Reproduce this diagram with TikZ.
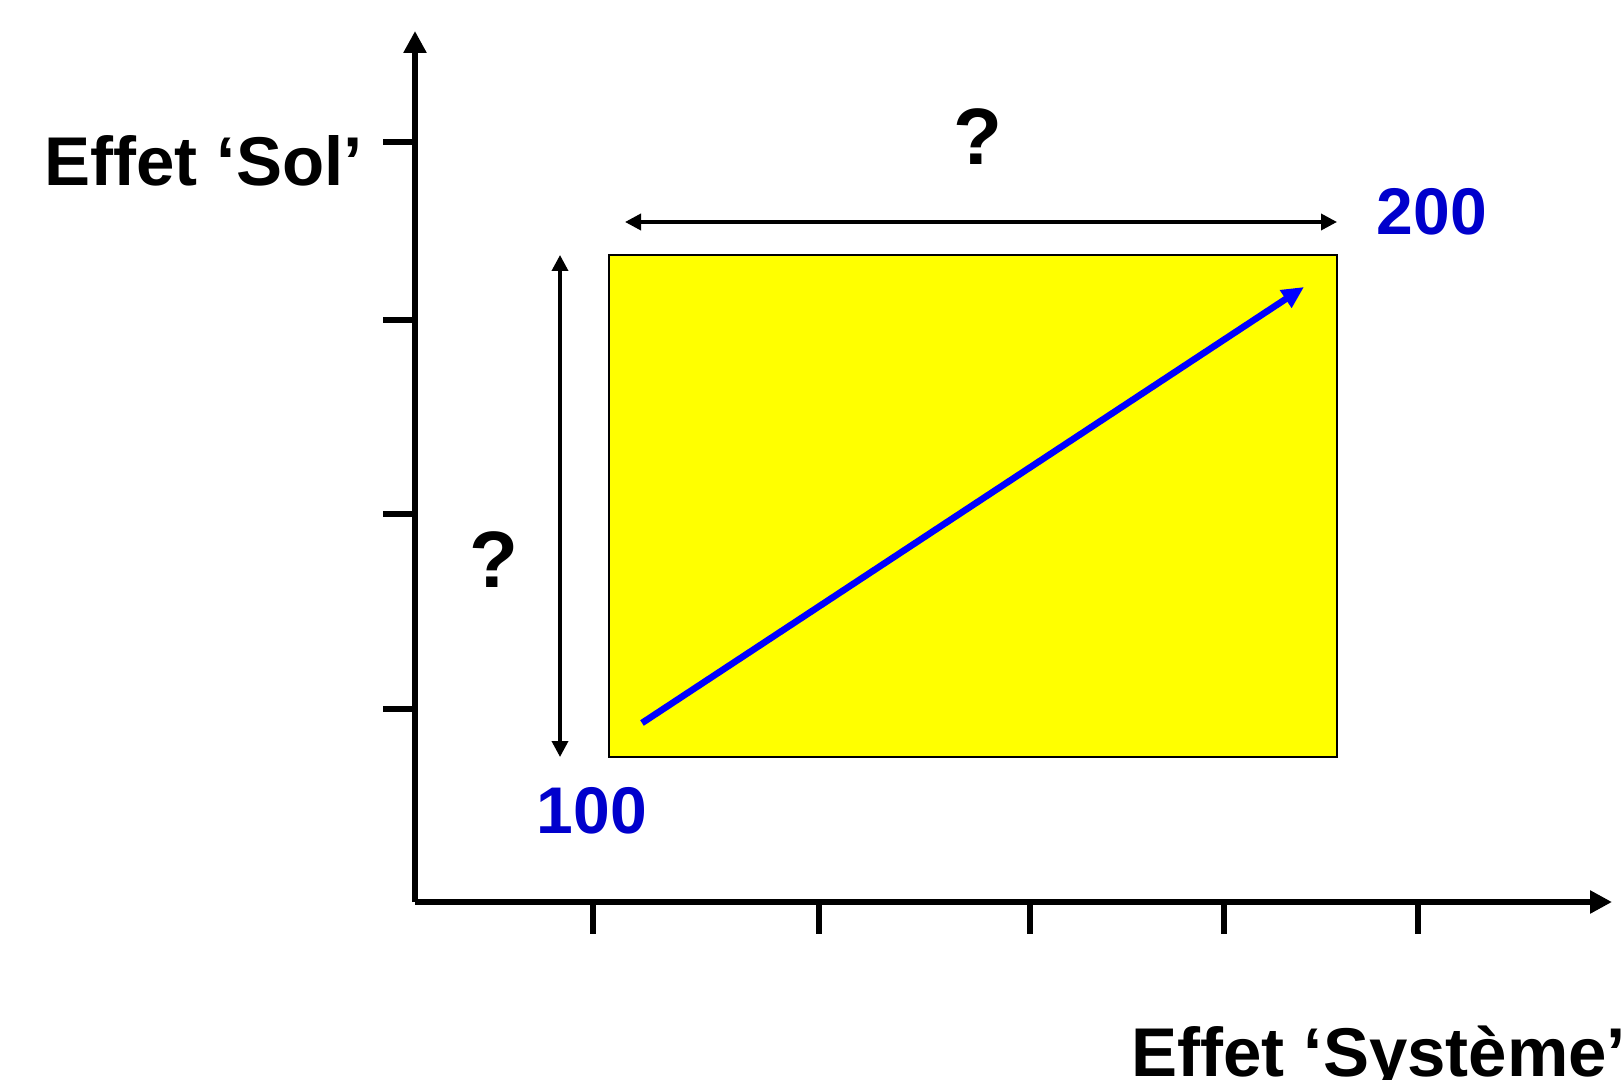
\documentclass[tikz,border=0pt]{standalone}
\usepackage{fontspec}
\setmainfont{Liberation Sans}
\usetikzlibrary{arrows.meta, positioning}
\definecolor{numblue}{RGB}{0,0,204}
\definecolor{zoneyellow}{RGB}{255,255,0}
\tikzset{
	axis_line/.style={draw=black, line width=3pt, -{Triangle[length=11pt, width=11pt]}},
	tick_line/.style={draw=black, line width=3pt},
	span_arrow/.style={draw=black, line width=1.8pt, {Triangle[length=8pt, width=8pt]}-{Triangle[length=8pt, width=8pt]}},
	trend_arrow/.style={draw=blue, line width=3.3pt, -{Triangle[length=11pt, width=10pt]}},
	zone_box/.style={rectangle, draw=black, line width=1pt, fill=zoneyellow, minimum width=364pt, minimum height=251pt, inner sep=0pt},
	axis_label/.style={font=\bfseries\fontsize{34.5}{41}\selectfont, inner sep=0pt},
	num_label/.style={font=\bfseries\fontsize{33}{40}\selectfont, text=numblue, inner sep=0pt},
	query_label/.style={font=\bfseries\fontsize{40}{48}\selectfont, inner sep=0pt}
}
\begin{document}
\begin{tikzpicture}[x=0.5pt, y=-0.5pt]
	\useasboundingbox (0,0) rectangle (1622,1080);
	% axes
	\coordinate (origin) at (415,902);
	\coordinate (y_tip) at (415,31);
	\coordinate (x_tip) at (1612,902);
	\draw[axis_line] (origin) -- (y_tip);
	\draw[axis_line] (origin) -- (x_tip);
	\foreach \ty in {142,320,514,709}
		\draw[tick_line] (383,\ty) -- (415,\ty);
	\foreach \tx in {593,819,1030,1224,1418}
		\draw[tick_line] (\tx,902) -- (\tx,934);
	% yellow zone
	\node[zone_box] (zone) at (973,506) {};
	\coordinate (h_left) at (625,222);
	\coordinate (h_right) at (1337,222);
	\coordinate (v_top) at (560,255);
	\coordinate (v_bottom) at (560,757);
	\draw[span_arrow] (h_left) -- (h_right);
	\draw[span_arrow] (v_top) -- (v_bottom);
	\coordinate (trend_start) at (642,723);
	\coordinate (trend_end) at (1304,287);
	\draw[trend_arrow] (trend_start) -- (trend_end);
	% labels
	\node[axis_label, anchor=base west] (sol_label) at (44,186) {Effet ‘Sol’};
	\node[axis_label, anchor=base west] (sys_label) at (1131,1076) {Effet ‘Système’};
	\node[num_label, anchor=base] (val_high) at (1432,235) {200};
	\node[num_label, anchor=base] (val_low) at (592,833) {100};
	\node[query_label, anchor=base] (q_top) at (978,165) {?};
	\node[query_label, anchor=base] (q_left) at (494,587) {?};
\end{tikzpicture}
\end{document}
